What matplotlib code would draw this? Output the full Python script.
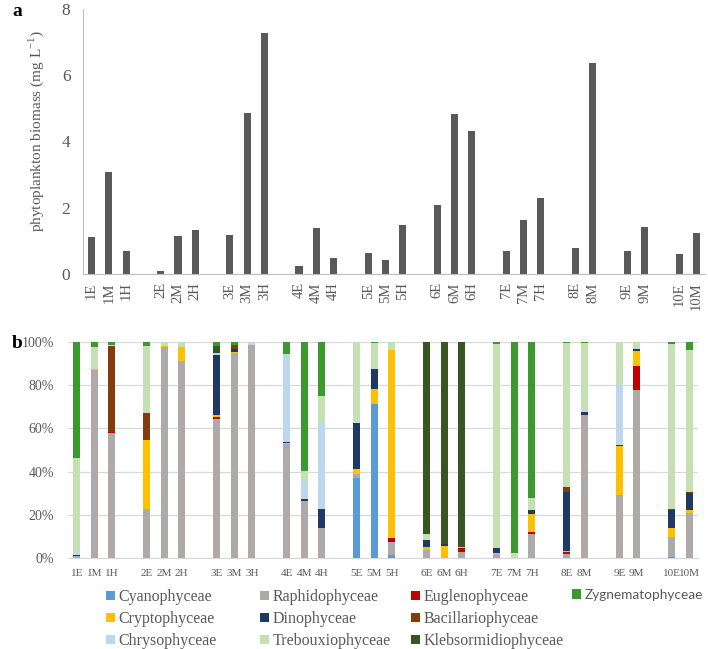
import matplotlib
matplotlib.use("Agg")
import matplotlib.pyplot as plt
from matplotlib.patches import Patch
from matplotlib.ticker import FuncFormatter

# sampling sites, grouped by station (blank slot between stations)
sites = ["1E", "1M", "1H", "2E", "2M", "2H", "3E", "3M", "3H", "4E", "4M", "4H",
         "5E", "5M", "5H", "6E", "6M", "6H", "7E", "7M", "7H", "8E", "8M",
         "9E", "9M", "10E", "10M"]
group_sizes = [3, 3, 3, 3, 3, 3, 3, 2, 2, 2]

# panel a: total biomass (mg L-1)
biomass = [1.11, 3.07, 0.70, 0.10, 1.16, 1.33, 1.19, 4.86, 7.28, 0.23, 1.40, 0.49,
           0.62, 0.43, 1.47, 2.07, 4.83, 4.32, 0.69, 1.63, 2.30, 0.78, 6.37,
           0.69, 1.41, 0.59, 1.25]

# panel b: relative composition (%), stacked bottom -> top
cyano = [0, 0, 0, 0, 0, 0, 0, 0, 0, 0, 0, 0, 37.0, 71.5, 1.5, 0, 0, 0, 0, 0, 0, 0, 0, 0, 0, 0.3, 0]
raphido = [0.8, 87.2, 57.9, 22.8, 97.7, 91.2, 64.5, 94.9, 98.8, 52.8, 26.2, 13.9, 2.0, 0, 5.9,
           3.5, 0, 2.9, 1.9, 0, 11.3, 1.9, 66.4, 29.0, 77.6, 9.6, 20.8]
eugleno = [0, 0, 0.6, 0, 0, 0, 0.8, 0, 0, 0, 0, 0, 0, 0, 1.9, 0, 0, 1.6, 0, 0, 0.7, 0.7, 0, 0, 11.1, 0, 0]
crypto = [0.3, 0.4, 0, 31.7, 0.3, 6.3, 1.1, 0.4, 0, 0.3, 0, 0, 2.0, 6.9, 86.8, 1.6, 5.7, 0.6,
          0.3, 0, 8.5, 0.6, 0, 22.7, 7.3, 3.8, 1.4]
dino = [0.5, 0, 0, 0, 0, 0, 27.4, 1.5, 0, 0.4, 1.3, 8.9, 21.3, 9.1, 0, 3.4, 0.8, 0,
        2.4, 0, 1.6, 27.5, 1.0, 0.8, 0.6, 8.7, 7.9]
bacill = [0, 0, 39.5, 12.6, 0, 0, 0, 1.8, 0, 0, 0, 0, 0, 0, 0, 0, 0, 0, 0, 0, 0, 2.0, 0, 0, 0, 0.3, 0.4]
chryso = [0.6, 0, 0, 0, 0, 0, 1.1, 0, 0.7, 40.6, 8.3, 39.7, 0, 0, 0, 0, 0, 0, 0, 0, 0, 0, 0, 27.4, 0, 0, 0]
trebo = [44.1, 9.9, 0.8, 31.2, 2.0, 2.5, 0, 0, 0.5, 0.5, 4.6, 12.3, 37.7, 12.1, 3.9, 2.6, 0, 0,
         94.5, 2.3, 5.7, 66.8, 32.1, 20.1, 3.4, 76.5, 65.6]
klebs = [0, 0, 0, 0, 0, 0, 3.4, 0, 0, 0, 0, 0, 0, 0, 0, 88.9, 93.5, 94.9, 0, 0, 0, 0, 0, 0, 0, 0, 0]
zygnem = [53.7, 2.5, 1.2, 1.7, 0, 0, 1.7, 1.4, 0, 5.4, 59.6, 25.2, 0, 0.4, 0, 0, 0, 0,
          0.9, 97.7, 72.2, 0.5, 0.5, 0, 0, 0.8, 3.9]

classes = ["Cyanophyceae", "Raphidophyceae", "Euglenophyceae", "Cryptophyceae", "Dinophyceae",
           "Bacillariophyceae", "Chrysophyceae", "Trebouxiophyceae", "Klebsormidiophyceae",
           "Zygnematophyceae"]
shares = [cyano, raphido, eugleno, crypto, dino, bacill, chryso, trebo, klebs, zygnem]
colors = {"Cyanophyceae": "#5B9BD5", "Raphidophyceae": "#AEAAAA", "Euglenophyceae": "#C00000",
          "Cryptophyceae": "#FFC000", "Dinophyceae": "#203864", "Bacillariophyceae": "#843C0C",
          "Chrysophyceae": "#BDD7EE", "Trebouxiophyceae": "#C5E0B4",
          "Klebsormidiophyceae": "#375623", "Zygnematophyceae": "#3A9A2E"}

# legend columns as laid out in the figure
legend_cols = [["Cyanophyceae", "Cryptophyceae", "Chrysophyceae"],
               ["Raphidophyceae", "Dinophyceae", "Trebouxiophyceae"],
               ["Euglenophyceae", "Bacillariophyceae", "Klebsormidiophyceae"],
               ["Zygnematophyceae"]]

plt.rcParams["font.family"] = ["Liberation Serif", "DejaVu Serif"]
plt.rcParams["mathtext.fontset"] = "custom"
plt.rcParams["mathtext.rm"] = "Liberation Serif"
TXT = "#595959"
AX = "#BFBFBF"


def positions():
    pos, slot = [], 0
    for n in group_sizes:
        for _ in range(n):
            pos.append(slot)
            slot += 1
        slot += 1
    return pos


def main():
    x = positions()
    fig = plt.figure(figsize=(7.08, 6.49), dpi=100)

    # Panel a
    ax = fig.add_axes([83 / 708, 1 - 274 / 649, 622 / 708, 265 / 649])
    ax.bar(x, biomass, width=0.41, color="#595959")
    ax.set_xlim(-0.5, x[-1] + 0.5)
    ax.set_ylim(0, 8)
    ax.set_yticks(range(0, 9, 2))
    ax.set_xticks(x)
    ax.set_xticklabels(sites, rotation=90, fontsize=10.5, color=TXT)
    ax.tick_params(axis="y", labelsize=12.5, colors=TXT, length=0, pad=9)
    ax.tick_params(axis="x", length=0, pad=6)
    for s in ["top", "right"]:
        ax.spines[s].set_visible(False)
    for s in ["left", "bottom"]:
        ax.spines[s].set_color(AX)
    ax.set_ylabel("phytoplankton biomass (mg L$^{\\mathregular{-1}}$)", fontsize=11, color=TXT)
    ax.yaxis.set_label_coords(-0.06, 0.54)
    fig.text(12 / 708, 1 - 12 / 649, "a", fontsize=14, fontweight="bold", va="center")

    # Panel b
    bx = fig.add_axes([68 / 708, 1 - 558 / 649, 630 / 708, 216 / 649])
    bottom = [0.0] * len(sites)
    for name, vals in zip(classes, shares):
        bx.bar(x, vals, bottom=bottom, width=0.42, color=colors[name], zorder=3)
        bottom = [b + v for b, v in zip(bottom, vals)]
    bx.set_xlim(-0.5, x[-1] + 0.5)
    bx.set_ylim(0, 100)
    bx.set_yticks(range(0, 101, 20))
    bx.yaxis.set_major_formatter(FuncFormatter(lambda v, _: f"{int(v)}%"))
    bx.set_xticks(x)
    bx.set_xticklabels(sites, fontsize=8, color=TXT)
    bx.tick_params(axis="y", labelsize=10, colors=TXT, length=0, pad=10)
    bx.tick_params(axis="x", length=0, pad=8)
    bx.grid(axis="y", color="#D9D9D9", linewidth=0.9, zorder=0)
    for s in ["top", "right", "left"]:
        bx.spines[s].set_visible(False)
    bx.spines["bottom"].set_color("#D9D9D9")
    fig.text(12 / 708, 1 - 343 / 649, "b", fontsize=14, fontweight="bold", va="center")

    # legend, one block per column
    col_x = [106, 260, 411, 572]
    for cx, names in zip(col_x, legend_cols):
        handles = [Patch(facecolor=colors[n], edgecolor="none") for n in names]
        leg = fig.legend(handles, names, loc="upper left", bbox_to_anchor=(cx / 708, 1 - 589 / 649),
                         frameon=False, fontsize=11.5, handlelength=0.55, handleheight=0.55,
                         handletextpad=0.25, labelspacing=0.38, borderpad=0, borderaxespad=0)
        for t in leg.get_texts():
            t.set_color(TXT)
            if t.get_text() == "Zygnematophyceae":
                t.set_family(["Lato", "DejaVu Sans"])
                t.set_fontsize(9.8)

    fig.savefig("out.png", dpi=100)


if __name__ == "__main__":
    main()
